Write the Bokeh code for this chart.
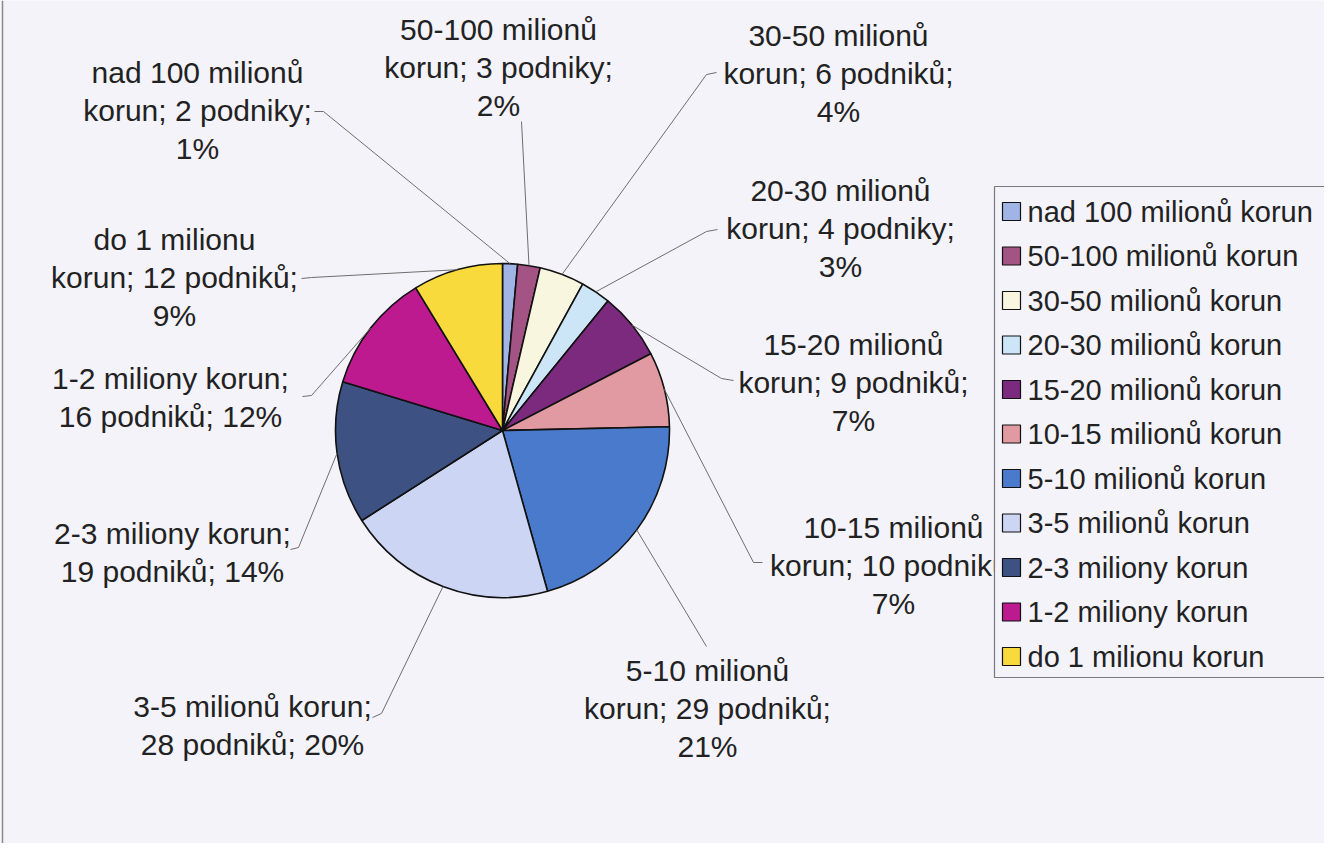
import math
from bokeh.plotting import figure
from bokeh.models import Range1d, ColumnDataSource
from bokeh.core.properties import value
from bokeh.embed import file_html
from bokeh.resources import INLINE

# ---------------- data ----------------
categories = ["nad 100 milionů korun", "50-100 milionů korun", "30-50 milionů korun",
              "20-30 milionů korun", "15-20 milionů korun", "10-15 milionů korun",
              "5-10 milionů korun", "3-5 milionů korun", "2-3 miliony korun",
              "1-2 miliony korun", "do 1 milionu korun"]
counts = [2, 3, 6, 4, 9, 10, 29, 28, 19, 16, 12]
colors = ["#a0b4e6", "#a45484", "#f8f6de", "#cce6f8", "#7c2a7e", "#e29aa2",
          "#4a7acb", "#ccd5f3", "#3d5283", "#bc1a8e", "#f8da3c"]
data_labels = [
    "nad 100 milionů\nkorun; 2 podniky;\n1%",
    "50-100 milionů\nkorun; 3 podniky;\n2%",
    "30-50 milionů\nkorun; 6 podniků;\n4%",
    "20-30 milionů\nkorun; 4 podniky;\n3%",
    "15-20 milionů\nkorun; 9 podniků;\n7%",
    "10-15 milionů\nkorun; 10 podniků;\n7%",
    "5-10 milionů\nkorun; 29 podniků;\n21%",
    "3-5 milionů korun;\n28 podniků; 20%",
    "2-3 miliony korun;\n19 podniků; 14%",
    "1-2 miliony korun;\n16 podniků; 12%",
    "do 1 milionu\nkorun; 12 podniků;\n9%",
]

# ---------------- layout (image pixel coordinates) ----------------
W, H = 1324, 843
def Y(y):
    return 859 - y

BG = "#f4f3fa"
FONT = value("Liberation Sans")
FS = "30px"
LEG_FS = "29px"
cx, cy, R = 502, 430, 167

label_x = [197, 498, 838, 840, 853, 893, 707, 252, 172, 170, 174]
label_y = [110, 67, 73, 228, 382, 565, 708, 725, 552, 397, 277]
leader_anchor = [
    [(314, 111), (323, 111)],
    [(521, 121)],
    [(716, 72), (706, 74)],
    [(717, 229), (706, 231)],
    [(733, 380), (721, 378)],
    [(762, 562), (753, 562)],
    [(706, 646)],
    [(372, 717), (381, 713)],
    [(290, 549), (298, 547)],
    [(302, 396), (311, 395)],
    [(301, 278), (311, 277)],
]

p = figure(width=W, height=H, output_backend="svg", toolbar_location=None,
           x_range=Range1d(0, W), y_range=Range1d(Y(H), Y(0)),
           min_border=0, background_fill_color=BG, border_fill_color=BG,
           outline_line_color=None)
p.axis.visible = False
p.grid.visible = False

# pie
total = sum(counts)
starts, ends, mids = [], [], []
acc = 0.0
for c in counts:
    t0 = acc / total * 2 * math.pi
    acc += c
    t1 = acc / total * 2 * math.pi
    starts.append(math.pi / 2 - t0)
    ends.append(math.pi / 2 - t1)
    mids.append((t0 + t1) / 2)

src = ColumnDataSource(dict(start=starts, end=ends, color=colors, cat=categories, n=counts))
p.wedge(x=cx, y=Y(cy), radius=R, start_angle="start", end_angle="end",
        direction="clock", fill_color="color", line_color="#111111",
        line_width=1.6, source=src)

# leader lines
xs, ys = [], []
for anc, m in zip(leader_anchor, mids):
    px = cx + R * math.sin(m)
    py = cy - R * math.cos(m)
    pts = anc + [(px, py)]
    xs.append([q[0] for q in pts])
    ys.append([Y(q[1]) for q in pts])
p.multi_line(xs=xs, ys=ys, line_color="#6e6e6e", line_width=1)

# data labels
p.text(x=label_x, y=[Y(v) for v in label_y], text=data_labels,
       text_font=FONT, text_font_size=FS, text_color="#222222",
       text_align="center", text_baseline="middle", text_line_height=1.14)

# left outer border
p.segment(x0=[2], y0=[Y(0)], x1=[2], y1=[Y(859)], line_color="#8a8a8a", line_width=1.5)

# legend (drawn last so it covers the clipped label)
p.quad(left=[994], right=[1345], top=[Y(186)], bottom=[Y(677)],
       fill_color=BG, line_color="#7a7a7a", line_width=1.2)
leg_y = [211 + i * 44.5 for i in range(len(categories))]
p.rect(x=[1011] * len(categories), y=[Y(v) for v in leg_y], width=18, height=18,
       fill_color=colors, line_color="#111111", line_width=1.2)
p.text(x=[1027] * len(categories), y=[Y(v) for v in leg_y], text=categories,
       text_font=FONT, text_font_size=LEG_FS, text_color="#222222",
       text_align="left", text_baseline="middle")

open("out.html", "w").write(file_html(p, INLINE))
